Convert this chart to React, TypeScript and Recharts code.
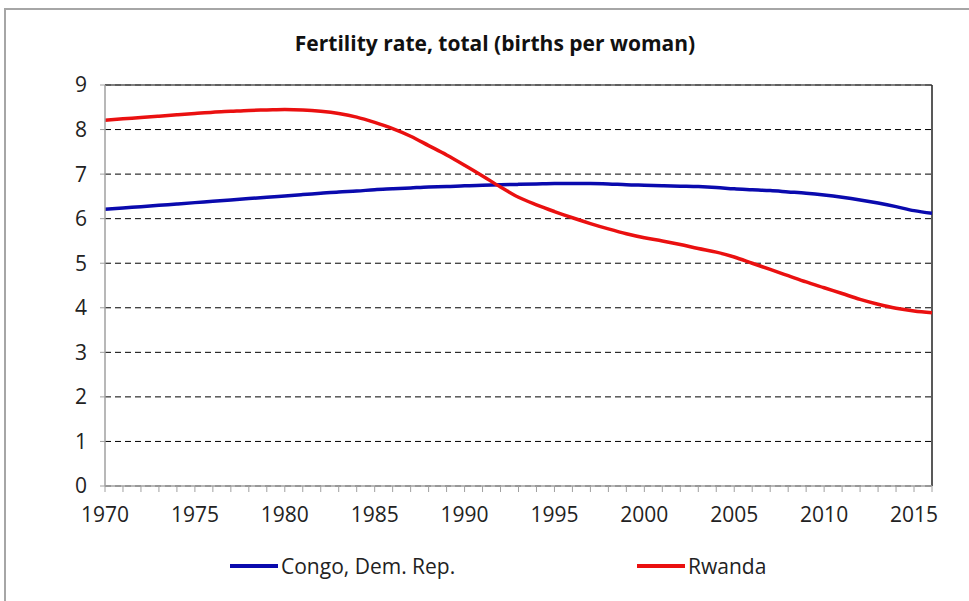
import React from "react";
import {
  LineChart, Line, XAxis, YAxis, CartesianGrid, ReferenceLine,
} from "recharts";

const years = [
  1970, 1971, 1972, 1973, 1974, 1975, 1976, 1977, 1978, 1979,
  1980, 1981, 1982, 1983, 1984, 1985, 1986, 1987, 1988, 1989,
  1990, 1991, 1992, 1993, 1994, 1995, 1996, 1997, 1998, 1999,
  2000, 2001, 2002, 2003, 2004, 2005, 2006, 2007, 2008, 2009,
  2010, 2011, 2012, 2013, 2014, 2015, 2016,
];

const congo = [
  6.21, 6.24, 6.27, 6.30, 6.33, 6.36, 6.39, 6.42, 6.45, 6.48,
  6.51, 6.54, 6.57, 6.60, 6.62, 6.65, 6.67, 6.69, 6.71, 6.72,
  6.74, 6.75, 6.76, 6.77, 6.78, 6.79, 6.79, 6.79, 6.78, 6.76,
  6.75, 6.74, 6.73, 6.72, 6.70, 6.67, 6.65, 6.63, 6.60, 6.57,
  6.53, 6.48, 6.42, 6.35, 6.27, 6.18, 6.12,
];

const rwanda = [
  8.21, 8.24, 8.27, 8.30, 8.33, 8.36, 8.39, 8.41, 8.43, 8.44,
  8.45, 8.44, 8.41, 8.36, 8.28, 8.16, 8.02, 7.85, 7.64, 7.43,
  7.20, 6.96, 6.71, 6.48, 6.31, 6.16, 6.02, 5.89, 5.77, 5.66,
  5.57, 5.50, 5.42, 5.33, 5.25, 5.14, 5.00, 4.86, 4.72, 4.58,
  4.45, 4.32, 4.19, 4.08, 3.99, 3.93, 3.89,
];

const yTicks = [0, 1, 2, 3, 4, 5, 6, 7, 8, 9];

const series = [
  { key: "congo", name: "Congo, Dem. Rep.", color: "#0a0aae" },
  { key: "rwanda", name: "Rwanda", color: "#ea1010" },
];

const data = years.map((year, i) => ({ year, congo: congo[i], rwanda: rwanda[i] }));

const FONT = "'Open Sans', sans-serif";

export default function App() {
  return (
    <div style={{ position: "absolute", left: 0, top: 0, width: 969, height: 601, background: "#fff", overflow: "hidden", fontFamily: FONT }}>
      {/* outer chart frame */}
      <div style={{ position: "absolute", left: 4, top: 8, width: 990, height: 620, border: "2px solid #a6a6a6" }} />

      <div style={{ position: "absolute", left: 0, top: 29, width: 990, textAlign: "center", fontSize: 21, fontWeight: 700, color: "#111" }}>
        Fertility rate, total (births per woman)
      </div>

      <div style={{ position: "absolute", left: 0, top: 0 }}>
        <LineChart width={969} height={601} data={data} margin={{ top: 85, right: 37, bottom: 85, left: 0 }}>
          <CartesianGrid vertical={false} stroke="#000" strokeDasharray="6 4" />
          <XAxis
            dataKey="year"
            interval={0}
            tickFormatter={(v: number) => (v % 5 === 0 ? String(v) : "")}
            axisLine={{ stroke: "#a0a0a0", strokeWidth: 1.5 }}
            tickLine={{ stroke: "#a0a0a0" }}
            tickSize={6}
            tickMargin={15}
            height={30}
            tick={{ fill: "#222", fontSize: 21, fontFamily: FONT }}
          />
          <YAxis
            domain={[0, 9]}
            ticks={yTicks}
            width={105}
            axisLine={{ stroke: "#a0a0a0", strokeWidth: 1.5 }}
            tickLine={{ stroke: "#a0a0a0" }}
            tickSize={5}
            tickMargin={13}
            tick={{ fill: "#222", fontSize: 21, fontFamily: FONT }}
          />
          <ReferenceLine y={9} stroke="#555" strokeWidth={1.5} />
          <ReferenceLine x={2016} stroke="#222" strokeWidth={1.5} />
          {series.map((s) => (
            <Line
              key={s.key}
              type="monotone"
              dataKey={s.key}
              name={s.name}
              stroke={s.color}
              strokeWidth={3.5}
              dot={false}
              isAnimationActive={false}
            />
          ))}
        </LineChart>
      </div>

      {/* legend */}
      {series.map((s, i) => (
        <div key={s.key} style={{ position: "absolute", left: i === 0 ? 230 : 637, top: 552, display: "flex", alignItems: "center", fontSize: 21, color: "#222" }}>
          <span style={{ display: "inline-block", width: 48, height: 4, background: s.color, marginRight: 3 }} />
          {s.name}
        </div>
      ))}
    </div>
  );
}
